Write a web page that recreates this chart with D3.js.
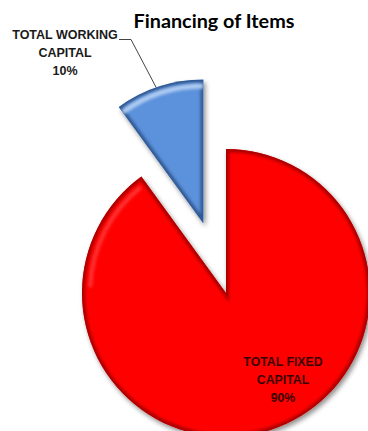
<!DOCTYPE html>
<html><head><meta charset="utf-8">
<script src="https://cdn.jsdelivr.net/npm/d3@7/dist/d3.min.js"></script>
<style>html,body{margin:0;padding:0;background:#fff;}svg{display:block;}</style>
</head><body>
<svg id="chart" width="368" height="431"></svg>
<script>
const categories = ["TOTAL FIXED CAPITAL", "TOTAL WORKING CAPITAL"];
const values = [90, 10];
const labelLines = [["TOTAL FIXED", "CAPITAL", "90%"], ["TOTAL WORKING", "CAPITAL", "10%"]];
const title = "Financing of Items";

const W = 368, H = 431;
const cx = 226, cy = 293, R = 144, explode = 73;
const fills = ["#FF0000", "#5C92DC"];
const rims = ["#9A0000", "#2C4F86"];

const svg = d3.select("#chart");
const defs = svg.append("defs");

const f = defs.append("filter").attr("id", "shadow").attr("x", "-20%").attr("y", "-20%").attr("width", "140%").attr("height", "140%");
f.append("feGaussianBlur").attr("in", "SourceAlpha").attr("stdDeviation", 2.5).attr("result", "b");
f.append("feOffset").attr("in", "b").attr("dx", 2).attr("dy", 3).attr("result", "o");
f.append("feComponentTransfer").attr("in", "o").attr("result", "o2")
  .append("feFuncA").attr("type", "linear").attr("slope", 0.45);
const m = f.append("feMerge");
m.append("feMergeNode").attr("in", "o2");
m.append("feMergeNode").attr("in", "SourceGraphic");

defs.append("filter").attr("id", "soft").append("feGaussianBlur").attr("stdDeviation", 1.8);

const pie = d3.pie().sort(null).startAngle(0).endAngle(2 * Math.PI);
const arcs = pie(values);
const arc = d3.arc().innerRadius(0).outerRadius(R);

const g = svg.append("g").attr("transform", `translate(${cx},${cy})`);

arcs.forEach((a, i) => {
  const mid = (a.startAngle + a.endAngle) / 2;
  const off = i === 1 ? explode : 0;
  const dx = Math.sin(mid) * off, dy = -Math.cos(mid) * off;
  const sg = g.append("g").attr("transform", `translate(${dx},${dy})`);
  const clipId = "clip" + i;
  defs.append("clipPath").attr("id", clipId).append("path").attr("d", arc(a));
  const wrap = sg.append("g").attr("filter", "url(#shadow)");
  wrap.append("path").attr("d", arc(a)).attr("fill", fills[i]);
  const inner = sg.append("g").attr("clip-path", `url(#${clipId})`);
  inner.append("path").attr("d", arc(a)).attr("fill", "none")
    .attr("stroke", rims[i]).attr("stroke-width", 6).attr("filter", "url(#soft)").attr("opacity", 0.85);
  if (i === 1) {
    const hl = d3.arc().innerRadius(R - 9).outerRadius(R - 4);
    inner.append("path").attr("d", hl(a)).attr("fill", "#B9D3F5").attr("filter", "url(#soft)").attr("opacity", 0.9);
  } else {
    const hl = d3.arc().innerRadius(R - 10).outerRadius(R - 6).startAngle(a.endAngle - 0.9).endAngle(a.endAngle - 0.05);
    inner.append("path").attr("d", hl()).attr("fill", "#FF6A6A").attr("filter", "url(#soft)").attr("opacity", 0.5);
  }
});

svg.append("text").attr("x", 214).attr("y", 28).attr("text-anchor", "middle")
  .attr("font-family", "Lato, 'Liberation Sans', sans-serif").attr("font-weight", "bold")
  .attr("font-size", 19.8).attr("fill", "#000").text(title);

const font = "'Liberation Sans', Arial, sans-serif";
const redLbl = svg.append("text").attr("text-anchor", "middle").attr("font-family", font)
  .attr("font-weight", "bold").attr("font-size", 12.3).attr("fill", "#3A0000");
labelLines[0].forEach((t, k) => redLbl.append("tspan").attr("x", cx + 57).attr("y", 366 + k * 18).text(t));

const blueLbl = svg.append("text").attr("text-anchor", "middle").attr("font-family", font)
  .attr("font-weight", "bold").attr("font-size", 12.5).attr("fill", "#1a1a1a");
labelLines[1].forEach((t, k) => blueLbl.append("tspan").attr("x", 65).attr("y", 39 + k * 18).text(t));

const b = arcs[1];
const bm = (b.startAngle + b.endAngle) / 2;
const ax = cx + Math.sin(bm) * explode + Math.sin(bm - 0.02) * R;
const ay = cy - Math.cos(bm) * explode - Math.cos(bm - 0.02) * R;
svg.append("path").attr("d", `M119,39.5 L131,39.5 L${ax},${ay}`)
  .attr("fill", "none").attr("stroke", "#444").attr("stroke-width", 1);
</script>
</body></html>
